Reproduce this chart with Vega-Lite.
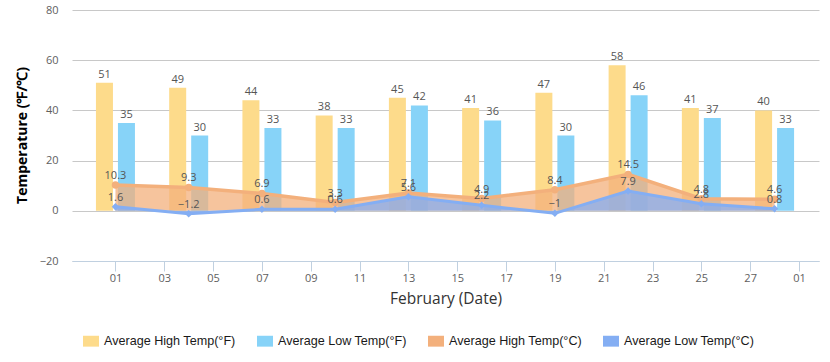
{
  "$schema": "https://vega.github.io/schema/vega-lite/v6.json",
  "width": 747,
  "height": 251,
  "autosize": {"type": "none"},
  "padding": {"left": 72, "top": 10, "right": 11, "bottom": 101},
  "background": "#ffffff",
  "config": {
    "font": "Open Sans",
    "view": {"stroke": null},
    "axis": {"labelFont": "Open Sans", "titleFont": "Open Sans"}
  },
  "data": {
    "values": [
      {"date": "2023-02-01", "series": "Average High Temp(°F)", "value": 51},
      {"date": "2023-02-04", "series": "Average High Temp(°F)", "value": 49},
      {"date": "2023-02-07", "series": "Average High Temp(°F)", "value": 44},
      {"date": "2023-02-10", "series": "Average High Temp(°F)", "value": 38},
      {"date": "2023-02-13", "series": "Average High Temp(°F)", "value": 45},
      {"date": "2023-02-16", "series": "Average High Temp(°F)", "value": 41},
      {"date": "2023-02-19", "series": "Average High Temp(°F)", "value": 47},
      {"date": "2023-02-22", "series": "Average High Temp(°F)", "value": 58},
      {"date": "2023-02-25", "series": "Average High Temp(°F)", "value": 41},
      {"date": "2023-02-28", "series": "Average High Temp(°F)", "value": 40},
      {"date": "2023-02-01", "series": "Average Low Temp(°F)", "value": 35},
      {"date": "2023-02-04", "series": "Average Low Temp(°F)", "value": 30},
      {"date": "2023-02-07", "series": "Average Low Temp(°F)", "value": 33},
      {"date": "2023-02-10", "series": "Average Low Temp(°F)", "value": 33},
      {"date": "2023-02-13", "series": "Average Low Temp(°F)", "value": 42},
      {"date": "2023-02-16", "series": "Average Low Temp(°F)", "value": 36},
      {"date": "2023-02-19", "series": "Average Low Temp(°F)", "value": 30},
      {"date": "2023-02-22", "series": "Average Low Temp(°F)", "value": 46},
      {"date": "2023-02-25", "series": "Average Low Temp(°F)", "value": 37},
      {"date": "2023-02-28", "series": "Average Low Temp(°F)", "value": 33},
      {"date": "2023-02-01", "series": "Average High Temp(°C)", "value": 10.3},
      {"date": "2023-02-04", "series": "Average High Temp(°C)", "value": 9.3},
      {"date": "2023-02-07", "series": "Average High Temp(°C)", "value": 6.9},
      {"date": "2023-02-10", "series": "Average High Temp(°C)", "value": 3.3},
      {"date": "2023-02-13", "series": "Average High Temp(°C)", "value": 7.1},
      {"date": "2023-02-16", "series": "Average High Temp(°C)", "value": 4.9},
      {"date": "2023-02-19", "series": "Average High Temp(°C)", "value": 8.4},
      {"date": "2023-02-22", "series": "Average High Temp(°C)", "value": 14.5},
      {"date": "2023-02-25", "series": "Average High Temp(°C)", "value": 4.8},
      {"date": "2023-02-28", "series": "Average High Temp(°C)", "value": 4.6},
      {"date": "2023-02-01", "series": "Average Low Temp(°C)", "value": 1.6},
      {"date": "2023-02-04", "series": "Average Low Temp(°C)", "value": -1.2},
      {"date": "2023-02-07", "series": "Average Low Temp(°C)", "value": 0.6},
      {"date": "2023-02-10", "series": "Average Low Temp(°C)", "value": 0.6},
      {"date": "2023-02-13", "series": "Average Low Temp(°C)", "value": 5.6},
      {"date": "2023-02-16", "series": "Average Low Temp(°C)", "value": 2.2},
      {"date": "2023-02-19", "series": "Average Low Temp(°C)", "value": -1},
      {"date": "2023-02-22", "series": "Average Low Temp(°C)", "value": 7.9},
      {"date": "2023-02-25", "series": "Average Low Temp(°C)", "value": 2.8},
      {"date": "2023-02-28", "series": "Average Low Temp(°C)", "value": 0.8}
    ]
  },
  "encoding": {
    "x": {
      "field": "date",
      "type": "temporal",
      "scale": {
        "type": "utc",
        "padding": 0,
        "domain": [
          {"year": 2023, "month": "Jan", "date": 30, "hours": 5, "minutes": 17, "utc": true},
          {"year": 2023, "month": "Mar", "date": 1, "hours": 19, "minutes": 40, "utc": true}
        ]
      },
      "axis": {
        "values": [
          {"year": 2023, "month": "Feb", "date": 1, "utc": true},
          {"year": 2023, "month": "Feb", "date": 3, "utc": true},
          {"year": 2023, "month": "Feb", "date": 5, "utc": true},
          {"year": 2023, "month": "Feb", "date": 7, "utc": true},
          {"year": 2023, "month": "Feb", "date": 9, "utc": true},
          {"year": 2023, "month": "Feb", "date": 11, "utc": true},
          {"year": 2023, "month": "Feb", "date": 13, "utc": true},
          {"year": 2023, "month": "Feb", "date": 15, "utc": true},
          {"year": 2023, "month": "Feb", "date": 17, "utc": true},
          {"year": 2023, "month": "Feb", "date": 19, "utc": true},
          {"year": 2023, "month": "Feb", "date": 21, "utc": true},
          {"year": 2023, "month": "Feb", "date": 23, "utc": true},
          {"year": 2023, "month": "Feb", "date": 25, "utc": true},
          {"year": 2023, "month": "Feb", "date": 27, "utc": true},
          {"year": 2023, "month": "Mar", "date": 1, "utc": true}
        ],
        "labelExpr": "utcFormat(datum.value, '%d')",
        "title": "February (Date)",
        "titleFontSize": 15.5,
        "titleFontWeight": "normal",
        "titleColor": "#333333",
        "titleBaseline": "middle",
        "titleY": 37,
        "labelFontSize": 11,
        "labelColor": "#606060",
        "labelPadding": 1,
        "labelFlush": false,
        "labelOverlap": false,
        "domainColor": "#C0D0E0",
        "tickColor": "#C0D0E0",
        "tickSize": 10,
        "grid": false
      }
    },
    "y": {
      "field": "value",
      "type": "quantitative",
      "scale": {"domain": [-20, 80], "nice": false, "zero": false},
      "axis": {
        "values": [-20, 0, 20, 40, 60, 80],
        "title": "Temperature (℉/℃)",
        "titleFontSize": 14,
        "titleFontWeight": "bold",
        "titleColor": "#000000",
        "titleAngle": -90,
        "titleAlign": "center",
        "titleBaseline": "middle",
        "titleX": -50,
        "titleY": 125,
        "labelFontSize": 11,
        "labelColor": "#606060",
        "labelPadding": 14,
        "domain": false,
        "ticks": false,
        "grid": true,
        "gridColor": "#C8C8C8"
      }
    }
  },
  "layer": [
    {
      "transform": [{"filter": "datum.series == 'Average High Temp(°F)'"}],
      "mark": {"type": "bar", "width": 17, "xOffset": -11},
      "encoding": {
        "y2": {"datum": 0},
        "color": {
          "field": "series",
          "type": "nominal",
          "scale": {
            "domain": ["Average High Temp(°F)", "Average Low Temp(°F)", "Average High Temp(°C)", "Average Low Temp(°C)"],
            "range": ["#FDDB8B", "#87D3F8", "#F3B07C", "#84AEF3"]
          },
          "legend": {
            "title": null,
            "orient": "none",
            "direction": "horizontal",
            "legendX": 11,
            "legendY": 323,
            "padding": 0,
            "symbolType": "M-1,-0.68H1V0.68H-1Z",
            "symbolSize": 256,
            "symbolOpacity": 1,
            "symbolStrokeWidth": 0,
            "labelFont": "Liberation Sans",
            "labelFontSize": 12.6,
            "labelColor": "#1a1a1a",
            "labelOffset": 5,
            "columnPadding": 21,
            "labelLimit": 300
          }
        }
      }
    },
    {
      "transform": [{"filter": "datum.series == 'Average Low Temp(°F)'"}],
      "mark": {"type": "bar", "width": 17, "xOffset": 11},
      "encoding": {
        "y2": {"datum": 0},
        "color": {"field": "series", "type": "nominal"}
      }
    },
    {
      "transform": [{"filter": "datum.series == 'Average High Temp(°C)'"}],
      "mark": {"type": "area", "fillOpacity": 0.75},
      "encoding": {
        "y2": {"datum": 0},
        "color": {"field": "series", "type": "nominal"}
      }
    },
    {
      "transform": [{"filter": "datum.series == 'Average High Temp(°C)'"}],
      "mark": {"type": "line", "strokeWidth": 3.5, "point": {"filled": true, "size": 55, "opacity": 1}},
      "encoding": {
        "color": {"field": "series", "type": "nominal"}
      }
    },
    {
      "transform": [{"filter": "datum.series == 'Average Low Temp(°C)'"}],
      "mark": {"type": "area", "fillOpacity": 0.75},
      "encoding": {
        "y2": {"datum": 0},
        "color": {"field": "series", "type": "nominal"}
      }
    },
    {
      "transform": [{"filter": "datum.series == 'Average Low Temp(°C)'"}],
      "mark": {"type": "line", "strokeWidth": 3, "point": {"filled": true, "size": 55, "shape": "diamond", "opacity": 1}},
      "encoding": {
        "color": {"field": "series", "type": "nominal"}
      }
    },
    {
      "transform": [{"filter": "datum.series == 'Average High Temp(°F)'"}],
      "mark": {"type": "text", "dx": -11, "dy": -3, "baseline": "bottom", "fontSize": 11, "color": "#555555"},
      "encoding": {"text": {"field": "value", "type": "quantitative"}}
    },
    {
      "transform": [{"filter": "datum.series == 'Average Low Temp(°F)'"}],
      "mark": {"type": "text", "dx": 11, "dy": -3, "baseline": "bottom", "fontSize": 11, "color": "#555555"},
      "encoding": {"text": {"field": "value", "type": "quantitative"}}
    },
    {
      "transform": [{"filter": "datum.series == 'Average High Temp(°C)' || datum.series == 'Average Low Temp(°C)'"}],
      "mark": {"type": "text", "dy": -4, "baseline": "bottom", "fontSize": 11, "color": "#555555"},
      "encoding": {"text": {"field": "value", "type": "quantitative"}}
    }
  ]
}
